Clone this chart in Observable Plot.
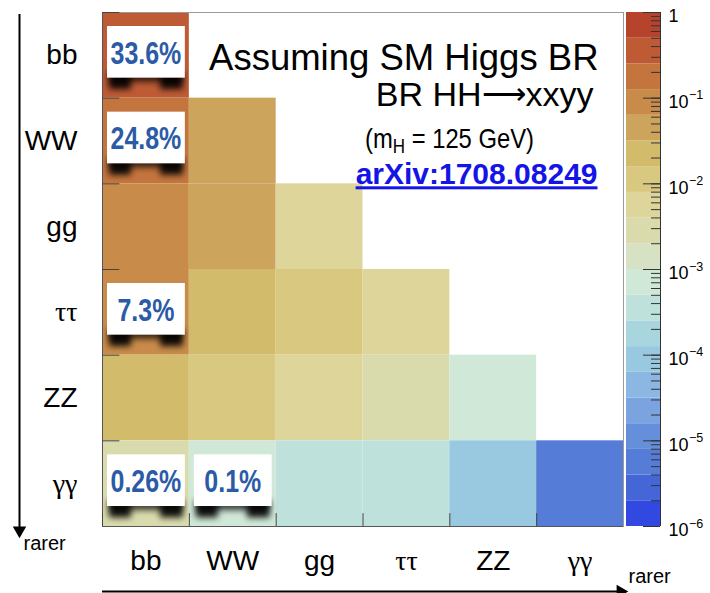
<!DOCTYPE html>
<html>
<head>
<meta charset="utf-8">
<script src="https://cdn.jsdelivr.net/npm/d3@7"></script>
<script src="https://cdn.jsdelivr.net/npm/@observablehq/plot@0.6"></script>
<style>
  html, body { margin: 0; padding: 0; background: #fff; }
  #chart { position: relative; width: 710px; height: 593px; }
  #chart svg { position: absolute; left: 0; top: 0; overflow: visible; }
</style>
</head>
<body>
<div id="chart"></div>
<script>
// ---------- data ----------
const decays = ["bb", "WW", "gg", "ττ", "ZZ", "γγ"];
// BR(HH -> row + column), lower triangle, rows top to bottom
const brRows = [
  [0.336],
  [0.248, 0.0457],
  [0.0949, 0.035, 0.0067],
  [0.073, 0.0268, 0.0103, 0.0040],
  [0.0304, 0.0112, 0.0043, 0.0033, 0.00069],
  [0.0026, 0.00097, 0.00037, 0.00029, 0.00012, 0.0000052]
];
const tagRows = ["bb", "WW", "ττ", "γγ", "γγ"];
const tagCols = ["bb", "bb", "bb", "bb", "WW"];
const tagLabels = ["33.6%", "24.8%", "7.3%", "0.26%", "0.1%"];
const titleLines = ["Assuming SM Higgs BR", "BR HH⟶xxyy", "(mH = 125 GeV)", "arXiv:1708.08249"];
const arrowLabel = "rarer";
const cbarDecades = [1, 1e-1, 1e-2, 1e-3, 1e-4, 1e-5, 1e-6];
const cbarBases = ["1", "10", "10", "10", "10", "10", "10"];
const cbarExponents = ["", "−1", "−2", "−3", "−4", "−5", "−6"];
// 20-step palette, from highest (top) to lowest (bottom)
const palette = ["#b6442d", "#be5b35", "#c4753e", "#c98b4a", "#cca45b", "#d3bb6c", "#d8c880", "#ddd599",
                 "#dadbad", "#d6e2c3", "#d0e8d8", "#bfe1dc", "#a9d6de", "#99c9e0", "#8bb7e2", "#7aa3e0",
                 "#658fda", "#557cd6", "#4566d6", "#3149e0"];

// ---------- derived ----------
const SANS = "'Liberation Sans', Arial, Helvetica, sans-serif";
const SHADOW = "#010101";
const n = decays.length;
const thresholds = d3.range(19, 0, -1).map(k => Math.pow(10, -0.3 * k));
const colorScale = {type: "threshold", domain: thresholds, range: palette.slice().reverse()};

const cells = brRows.flatMap((vals, r) => vals.map((v, c) => ({row: r, col: c, br: v})));
const tags = tagLabels.map((label, i) => ({row: decays.indexOf(tagRows[i]), col: decays.indexOf(tagCols[i]), label}));
const edges = d3.range(n);
const centers = d3.range(n).map(i => i + 0.5);
const nameAt = v => decays[Math.floor(v)];
const cellRect = {x1: d => d.col, x2: d => d.col + 1, y1: d => d.row, y2: d => d.row + 1};

const main = Plot.plot({
  width: 710, height: 593,
  marginLeft: 102, marginRight: 87, marginTop: 12, marginBottom: 67,
  style: {fontFamily: SANS, background: "transparent", color: "#000", overflow: "visible"},
  x: {domain: [0, n]},
  y: {domain: [0, n], reverse: true},
  color: colorScale,
  marks: [
    Plot.rect(cells, {...cellRect, fill: "br"}),
    Plot.frame({stroke: "#9a9a9a"}),
    Plot.ruleX([0], {stroke: "#555"}),
    Plot.ruleY([n], {stroke: "#555"}),
    Plot.ruleY(edges, {x1: 0, x2: 0.2, stroke: "#444"}),
    Plot.ruleX(edges, {y1: n, y2: n - 0.15, stroke: "#444"}),
    // tag shadows (page curl)
    Plot.rect(tags, {...cellRect, insetLeft: 8, insetRight: 7, insetTop: 60, insetBottom: 16, fill: SHADOW, fillOpacity: 0.75}),
    Plot.rect(tags, {...cellRect, insetLeft: 7, insetRight: 58, insetTop: 60, insetBottom: 8.5, fill: SHADOW, fillOpacity: 0.9}),
    Plot.rect(tags, {...cellRect, insetLeft: 58, insetRight: 6, insetTop: 60, insetBottom: 8.5, fill: SHADOW, fillOpacity: 0.9}),
    // tag boxes
    Plot.rect(tags, {...cellRect, insetLeft: 5, insetRight: 4, insetTop: 14, insetBottom: 20, fill: "#fff"}),
    Plot.text(tags, {x: d => d.col + 0.5, y: d => d.row + 0.5, dy: -2, text: "label",
      fill: "#2b5ba6", fontWeight: "bold", fontSize: 32}),
    // axes
    Plot.axisY(centers, {tickFormat: nameAt, tickSize: 0, tickPadding: 25, fontSize: 28, label: null}),
    Plot.axisX(centers, {tickFormat: nameAt, tickSize: 0, tickPadding: 24, fontSize: 28, label: null}),
    // "rarer" arrows
    Plot.ruleX([0], {y1: 0, y2: n, dx: -83, insetTop: 2, insetBottom: -1, strokeWidth: 2, stroke: "#000"}),
    Plot.dot([0], {x: 0, y: n, dx: -83, dy: 4, symbol: "triangle", rotate: 180, r: 5, fill: "#000", stroke: "none"}),
    Plot.ruleY([n], {x1: 0, x2: n, dy: 65, insetRight: 4, strokeWidth: 2, stroke: "#000"}),
    Plot.dot([0], {x: n, y: n, dx: -3, dy: 65, symbol: "triangle", rotate: 90, r: 5, fill: "#000", stroke: "none"}),
    Plot.text([arrowLabel], {x: 0, y: n, dx: -79, dy: 17, text: d => d, textAnchor: "start", fontSize: 20}),
    Plot.text([arrowLabel], {x: n, y: n, dx: 5, dy: 50, text: d => d, textAnchor: "start", fontSize: 20}),
    // titles
    Plot.text([titleLines[0]], {frameAnchor: "top-right", dx: -25, dy: 31.5, text: d => d, textAnchor: "end", fontSize: 36.5}),
    Plot.text([titleLines[1]], {frameAnchor: "top-right", dx: -30, dy: 69, text: d => d, textAnchor: "end", fontSize: 34}),
    Plot.text([titleLines[2]], {frameAnchor: "top-right", dx: -174, dy: 116, text: d => d, textAnchor: "middle", fontSize: 28}),
    Plot.text([titleLines[3]], {frameAnchor: "top-right", dx: -26, dy: 150.5, text: d => d, textAnchor: "end", fontSize: 30, fontWeight: "bold", fill: "#1414e6"})
  ]
});

// ---------- colour bar ----------
const cbEdges = [1e-6, ...thresholds, 1];
const cbBins = d3.range(cbEdges.length - 1).map(i => ({lo: cbEdges[i], hi: cbEdges[i + 1]}));
const logTicks = d3.scaleLog().domain([1e-6, 1]).ticks();
const cbar = Plot.plot({
  width: 710, height: 593,
  marginLeft: 626, marginRight: 50, marginTop: 12, marginBottom: 67,
  style: {fontFamily: SANS, background: "transparent", color: "#000", overflow: "visible"},
  x: {domain: [0, 1], axis: null},
  y: {type: "log", domain: [1e-6, 1], axis: null},
  color: colorScale,
  marks: [
    Plot.rect(cbBins, {x1: 0, x2: 1, y1: "lo", y2: "hi", fill: d => Math.sqrt(d.lo * d.hi)}),
    Plot.ruleY(logTicks, {insetLeft: 25, stroke: "#333"}),
    Plot.ruleY(cbarDecades, {insetLeft: 17, stroke: "#333"}),
    Plot.ruleX([1], {stroke: "#333"}),
    Plot.text(cbarDecades, {y: d => d, frameAnchor: "right", dx: 8, dy: 4, textAnchor: "start",
      text: (d, i) => cbarBases[i], fontSize: 18}),
    Plot.text(cbarDecades, {y: d => d, frameAnchor: "right", dx: 28.5, dy: -3, textAnchor: "start",
      text: (d, i) => cbarExponents[i], fontSize: 12.5})
  ]
});

const chart = document.getElementById("chart");
chart.appendChild(main);
chart.appendChild(cbar);

// ---------- post-processing (blur, sub/underline, narrow glyphs, greek font) ----------
const svg = d3.select(main);
const defs = svg.insert("defs", ":first-child");
defs.append("filter").attr("id", "tagblur")
  .attr("x", "-30%").attr("y", "-100%").attr("width", "160%").attr("height", "300%")
  .append("feGaussianBlur").attr("stdDeviation", 3);
svg.selectAll("g").filter(function() { return this.getAttribute("fill") === SHADOW; })
  .attr("filter", "url(#tagblur)");

function squeeze(sel, k) {
  sel.each(function() {
    const tr = this.getAttribute("transform") || "";
    this.setAttribute("transform", tr + ` scale(${k},1)`);
  });
}
const allText = svg.selectAll("text");
const byText = s => allText.filter(function() { return this.textContent === s; });

squeeze(allText.filter(function() { return tagLabels.includes(this.textContent); }), 0.78);

byText(titleLines[1]).each(function() {
  const [a, b] = titleLines[1].split("⟶");
  const t = d3.select(this);
  t.text(a);
  t.append("tspan").attr("dy", -2).attr("font-family", "'DejaVu Sans', sans-serif")
    .attr("font-size", 31).attr("font-weight", 200).text("⟶");
  t.append("tspan").attr("dy", 2).text(b);
});

const massText = byText(titleLines[2]);
massText.each(function() {
  const t = d3.select(this);
  t.text("(m");
  t.append("tspan").attr("dy", 5).attr("font-size", 20).text("H");
  t.append("tspan").attr("dy", -5).text(" = 125 GeV)");
});
squeeze(massText, 0.85);
byText(titleLines[3]).style("text-decoration", "underline");
allText.filter(function() { return /[τγ]/.test(this.textContent); })
  .attr("font-family", "'Liberation Serif', 'Times New Roman', serif");
</script>
</body>
</html>
